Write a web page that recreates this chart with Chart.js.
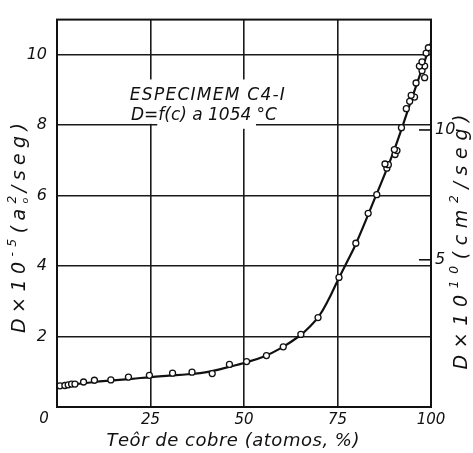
<!DOCTYPE html>
<html><head><meta charset="utf-8">
<script src="https://cdn.jsdelivr.net/npm/chart.js@4.4.0/dist/chart.umd.min.js"></script>
<style>html,body{margin:0;padding:0;background:#fff}#wrap{width:473px;height:453px;position:relative}</style>
</head><body><div id="wrap"><canvas id="c"></canvas></div>
<script>
// ---- data ----
const curveX = [0,5,10,15,20,25,30,35,40,45,50,55,60,65,67.5,70,72.5,75,77.5,80,85,90,95,100];
const curveY = [0.58,0.65,0.71,0.755,0.80,0.85,0.89,0.93,0.99,1.11,1.25,1.42,1.68,2.03,2.27,2.57,3.03,3.58,4.11,4.65,5.93,7.25,8.80,10.35];
const pointX = [0.8,2.1,3.0,3.9,4.8,7.1,10.0,14.4,19.1,24.7,30.9,36.1,41.5,46.1,50.7,56.0,60.5,65.2,69.8,75.4,79.9,83.2,85.5,88.2,88.6,87.7,90.4,90.9,90.2,92.1,93.4,94.3,95.6,94.7,96.0,98.3,97.6,98.3,96.9,97.6,98.7,99.3];
const pointY = [0.60,0.61,0.63,0.65,0.65,0.71,0.76,0.77,0.85,0.90,0.96,0.99,0.95,1.21,1.29,1.46,1.71,2.06,2.54,3.68,4.65,5.50,6.03,6.78,6.88,6.90,7.17,7.28,7.31,7.93,8.47,8.68,8.80,8.85,9.20,9.35,9.55,9.68,9.68,9.80,10.05,10.20];
const xTicks = [0,25,50,75,100];
const yTicks = [0,2,4,6,8,10];
const y2Ticks = [5,10];
const xTitle = 'Teôr de cobre (atomos, %)';
const yTitleParts = [{t:'D×10'},{t:'-5',s:0.65,dy:-0.45},{t:'(a'},{t:'2',s:0.65,dy:-0.45,noAdv:true},{t:'o',s:0.5,dy:0.15},{t:'/seg)'}];
const y2TitleParts = [{t:'D×10'},{t:'10',s:0.65,dy:-0.45},{t:'(cm'},{t:'2',s:0.65,dy:-0.45},{t:'/seg)'}];
const boxLine1 = 'ESPECIMEM C4-I';
const boxLine2 = 'D=f(c) a 1054 °C';

const FAM = "'DejaVu Sans', sans-serif";
const INK = '#111';

function drawRich(ctx, parts, cx, cy, rot, size, target) {
  ctx.save();
  ctx.translate(cx, cy); ctx.rotate(rot);
  ctx.fillStyle = INK; ctx.textBaseline = 'alphabetic'; ctx.textAlign = 'left';
  const glyphs = [];
  for (const p of parts) {
    const fs = size * (p.s || 1);
    ctx.font = `italic ${fs}px ${FAM}`;
    for (const ch of [...p.t]) glyphs.push({ch, fs, dy:(p.dy||0)*size, w:ctx.measureText(ch).width, adv:!p.noAdv});
  }
  const adv = glyphs.filter(g=>g.adv);
  const natural = adv.reduce((a,g)=>a+g.w,0);
  const track = target ? (target-natural)/Math.max(1,adv.length-1) : 0;
  let x = -(natural + track*(adv.length-1))/2;
  const base = size*0.36;
  for (const g of glyphs) {
    ctx.font = `italic ${g.fs}px ${FAM}`;
    ctx.fillText(g.ch, x, base + g.dy);
    if (g.adv) x += g.w + track;
  }
  ctx.restore();
}

const deco = {
  id:'deco',
  beforeDatasetsDraw(chart) {
    const {ctx, scales:{x, y}} = chart;
    ctx.save(); ctx.fillStyle = '#fff';
    ctx.fillRect(x.getPixelForValue(23), y.getPixelForValue(9.3), x.getPixelForValue(53.2)-x.getPixelForValue(23), y.getPixelForValue(8.04)-y.getPixelForValue(9.3));
    ctx.fillRect(x.getPixelForValue(26.8), y.getPixelForValue(8.1), x.getPixelForValue(53.2)-x.getPixelForValue(26.8), y.getPixelForValue(7.9)-y.getPixelForValue(8.1));
    ctx.restore();
  },
  afterDraw(chart) {
    const {ctx, chartArea:a, scales:{x, y, y2}} = chart;
    ctx.save();
    ctx.strokeStyle = INK; ctx.lineWidth = 2;
    ctx.strokeRect(a.left, a.top, a.right-a.left, a.bottom-a.top);
    ctx.lineWidth = 1.6;
    for (const v of y2Ticks) {
      const py = y2.getPixelForValue(v);
      ctx.beginPath(); ctx.moveTo(a.right-12, py); ctx.lineTo(a.right+1, py); ctx.stroke();
    }
    ctx.fillStyle = INK; ctx.font = `italic 15px ${FAM}`; ctx.textAlign='center'; ctx.textBaseline='middle';
    ctx.fillText('0', x.getPixelForValue(0)-13, y.getPixelForValue(0)+12);
    ctx.restore();
    drawRich(ctx, [{t:xTitle}], 233, 440, 0, 18, 253);
    drawRich(ctx, yTitleParts, 18, 228, -Math.PI/2, 19, 210);
    drawRich(ctx, y2TitleParts, 460, 242, -Math.PI/2, 19, 255);
    drawRich(ctx, [{t:boxLine1}], x.getPixelForValue(40.2), y.getPixelForValue(8.88), 0, 17, 155);
    drawRich(ctx, [{t:boxLine2}], x.getPixelForValue(39.3), y.getPixelForValue(8.33), 0, 17, 146);
  }
};

const tickFont = {family:FAM, style:'italic', size:16};
const gridStyle = {color:'#1a1a1a', lineWidth:1.6, drawTicks:false};
new Chart(document.getElementById('c'), {
  type:'scatter',
  data:{datasets:[
    {label:'medidas', data:pointX.map((v,i)=>({x:v, y:pointY[i]})), showLine:false, pointRadius:3, pointBorderWidth:1.3, pointBorderColor:INK, pointBackgroundColor:'#fff', order:0},
    {label:'curva', data:curveX.map((v,i)=>({x:v, y:curveY[i]})), showLine:true, borderColor:INK, borderWidth:2.2, pointRadius:0, tension:0.4, order:1}
  ]},
  options:{
    responsive:true, maintainAspectRatio:false, animation:false,
    layout:{padding:{top:7,left:0,right:0,bottom:0}},
    plugins:{legend:{display:false}, tooltip:{enabled:false}},
    scales:{
      x:{type:'linear', min:0, max:100,
        afterBuildTicks:s=>{s.ticks = xTicks.map(v=>({value:v}));},
        afterFit:s=>{s.height = 46;},
        grid:gridStyle, border:{display:false},
        ticks:{padding:4, color:INK, font:{family:FAM, style:'italic', size:15}, maxRotation:0, autoSkip:false, callback:v=>v===0?'':String(v)}},
      y:{type:'linear', min:0, max:11,
        afterBuildTicks:s=>{s.ticks = yTicks.map(v=>({value:v}));},
        afterFit:s=>{s.width = 57;},
        grid:gridStyle, border:{display:false},
        ticks:{padding:10, color:INK, font:tickFont, autoSkip:false, callback:v=>v===0?'':String(v)}},
      y2:{type:'linear', position:'right', min:-0.67, max:14.25,
        afterBuildTicks:s=>{s.ticks = y2Ticks.map(v=>({value:v}));},
        afterFit:s=>{s.width = 42;},
        grid:{display:false, drawTicks:false}, border:{display:false},
        ticks:{padding:4, color:INK, font:tickFont, autoSkip:false}}
    }
  },
  plugins:[deco]
});
</script></body></html>
